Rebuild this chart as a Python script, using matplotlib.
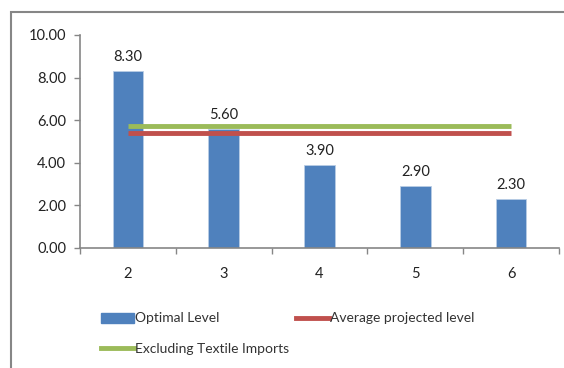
import matplotlib.pyplot as plt
from matplotlib.patches import Rectangle
from matplotlib.lines import Line2D

plt.rcParams['font.family'] = ['Lato', 'DejaVu Sans']

categories = ['2', '3', '4', '5', '6']
optimal_level = [8.30, 5.60, 3.90, 2.90, 2.30]
avg_projected = [5.38, 5.38, 5.38, 5.38, 5.38]
excl_textile = [5.74, 5.74, 5.74, 5.74, 5.74]
y_ticks = [0, 2, 4, 6, 8, 10]

blue = '#4f81bd'
red = '#c0504d'
green = '#9bbb59'
gray = '#868686'

fig = plt.figure(figsize=(5.64, 3.68), dpi=100)

# outer chart border
fig.patches.append(Rectangle((11 / 564, -0.05), 1.0, 1 - 12 / 368 + 0.05,
                             transform=fig.transFigure, fill=False,
                             edgecolor=gray, linewidth=1.5))

ax = fig.add_axes([80 / 564, 1 - 247.7 / 368, 479 / 564, 212.7 / 368])
x = range(len(categories))
ax.bar(x, optimal_level, width=0.32, color=blue, edgecolor='#b9cde5', linewidth=0.6, zorder=2)
ax.plot(x, excl_textile, color=green, linewidth=3.5, solid_capstyle='butt', zorder=3)
ax.plot(x, avg_projected, color=red, linewidth=3.5, solid_capstyle='butt', zorder=3)

for xi, v in zip(x, optimal_level):
    ax.annotate(f'{v:.2f}', (xi, v), xytext=(0, 5), textcoords='offset points',
                ha='center', va='bottom', fontsize=10.5, color='#222222')

ax.set_xlim(-0.5, len(categories) - 0.5)
ax.set_ylim(0, 10)
ax.set_yticks(y_ticks)
ax.set_yticklabels([f'{t:.2f}' for t in y_ticks])
ax.set_xticks([i + 0.5 for i in range(-1, len(categories))], minor=False)
ax.set_xticklabels([])
ax.set_xticks(list(x), minor=True)
ax.set_xticklabels(categories, minor=True)
ax.tick_params(axis='x', which='major', length=4, color=gray, width=1)
ax.tick_params(axis='x', which='minor', length=0, pad=14, labelsize=10.5, labelcolor='#222222')
ax.tick_params(axis='y', length=4, color=gray, width=1, labelsize=10.5, labelcolor='#222222', pad=6)

for side in ['top', 'right']:
    ax.spines[side].set_visible(False)
for side in ['left', 'bottom']:
    ax.spines[side].set_color(gray)
    ax.spines[side].set_linewidth(1.2)

# legend fills column by column: col 1 = Optimal, Excluding; col 2 = Average
handles = [
    Rectangle((0, 0), 1, 1, color=blue),
    Line2D([], [], color=green, linewidth=3.5),
    Line2D([], [], color=red, linewidth=3.5),
]
labels = ['Optimal Level', 'Excluding Textile Imports', 'Average projected level']
fig.legend(handles, labels, loc='upper left', bbox_to_anchor=(88 / 564, 1 - 300 / 368),
           ncol=2, frameon=False, fontsize=10, handlelength=2.4, handletextpad=0.1,
           columnspacing=0.45, labelspacing=1.3, labelcolor='#333333')

fig.savefig('out.png', dpi=100)
